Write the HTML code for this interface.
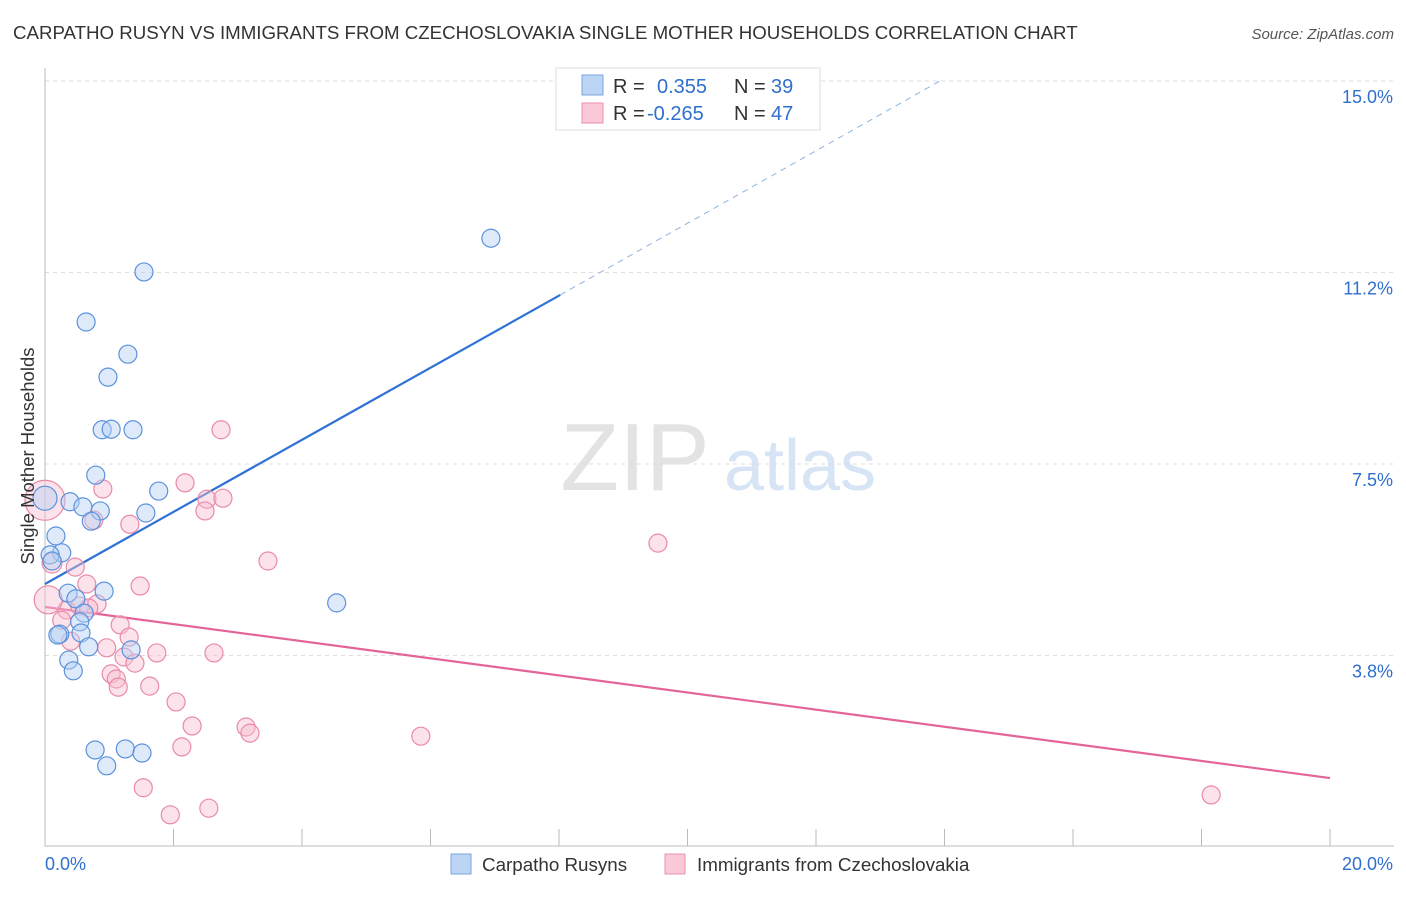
<!DOCTYPE html>
<html><head><meta charset="utf-8"><style>
body{margin:0;background:#fff;font-family:"Liberation Sans",sans-serif;}
svg text{font-family:"Liberation Sans",sans-serif;}
</style></head><body>
<svg id="chart" width="1406" height="892" xmlns="http://www.w3.org/2000/svg">
<text x="13" y="39" font-size="18.7" fill="#333">CARPATHO RUSYN VS IMMIGRANTS FROM CZECHOSLOVAKIA SINGLE MOTHER HOUSEHOLDS CORRELATION CHART</text>
<text x="1394" y="39" font-size="15" fill="#555" text-anchor="end" font-style="italic">Source: ZipAtlas.com</text>
<g>
<text x="635" y="490" font-size="96" fill="#e3e3e3" font-family="Liberation Serif" text-anchor="middle">ZIP</text>
<text x="800" y="490" font-size="72" fill="#d6e4f5" text-anchor="middle">atlas</text>
</g>
<g id="grid"></g>
<g id="axes"></g>
<g id="lines"></g>
<g id="pts"></g>
<text transform="translate(34,456) rotate(-90)" font-size="18.5" fill="#333" text-anchor="middle">Single Mother Households</text>
<g>
<rect x="556" y="68" width="264" height="62" fill="#fff" stroke="#ddd"/>
<rect x="582" y="75" width="21" height="20" fill="#bcd5f5" stroke="#7aa5e0"/>
<rect x="582" y="103" width="21" height="20" fill="#fbc8d8" stroke="#eb91ad"/>
<text x="613" y="93" font-size="20" fill="#333">R =</text>
<text x="657" y="93" font-size="20" fill="#2f6fce">0.355</text>
<text x="734" y="93" font-size="20" fill="#333">N =</text>
<text x="771" y="93" font-size="20" fill="#2f6fce">39</text>
<text x="613" y="120" font-size="20" fill="#333">R =</text>
<text x="647" y="120" font-size="20" fill="#2f6fce">-0.265</text>
<text x="734" y="120" font-size="20" fill="#333">N =</text>
<text x="771" y="120" font-size="20" fill="#2f6fce">47</text>
</g>
<g>
<rect x="451" y="854" width="20" height="20" fill="#bcd5f5" stroke="#7aa5e0"/>
<text x="482" y="871" font-size="18.8" fill="#333">Carpatho Rusyns</text>
<rect x="665" y="854" width="20" height="20" fill="#fbc8d8" stroke="#eb91ad"/>
<text x="697" y="871" font-size="18.8" fill="#333">Immigrants from Czechoslovakia</text>
</g>
</svg>
<script>
const yTicks=[3.75,7.5,11.25,15];
const yTickLabels=["3.8%","7.5%","11.2%","15.0%"];
const xTickVals=[0,2,4,6,8,10,12,14,16,18,20];
const blueX=[6.94,1.54,0.64,1.29,0.98,0.89,1.03,1.37,0.79,1.77,0.39,0.59,0.86,1.57,0.72,0.17,0.26,0.08,0.11,0.92,0.36,0.48,4.54,0.61,0.54,0.56,0.23,0.20,0.68,1.34,0.37,0.44,0.78,1.25,1.51,0.96,0];
const blueY=[11.92,11.26,10.28,9.65,9.20,8.17,8.18,8.17,7.28,6.97,6.76,6.66,6.58,6.54,6.38,6.09,5.76,5.72,5.60,5.01,4.97,4.86,4.78,4.58,4.41,4.19,4.17,4.15,3.92,3.86,3.66,3.45,1.90,1.92,1.84,1.59,6.83];
const blueR=[9,9,9,9,9,9,9,9,9,9,9,9,9,9,9,9,9,9,9,9,9,9,9,9,9,9,9,9,9,9,9,9,9,9,9,9,12];
const pinkX=[2.74,2.18,0.90,2.52,2.77,2.49,0.76,1.32,3.47,0.47,1.48,0.65,0.34,0.26,0.54,0.81,0.68,1.17,1.31,0.40,0.96,1.23,1.40,1.74,2.63,1.03,1.11,1.14,1.63,2.04,2.29,3.13,3.19,2.13,5.85,1.53,1.95,2.55,9.54,18.15,0,0.05,0.11];
const pinkY=[8.17,7.13,7.01,6.81,6.83,6.58,6.40,6.32,5.60,5.48,5.11,5.15,4.64,4.44,4.72,4.76,4.68,4.35,4.11,4.03,3.90,3.72,3.60,3.80,3.80,3.39,3.29,3.13,3.15,2.84,2.37,2.35,2.23,1.96,2.17,1.16,0.63,0.76,5.95,1.02,6.79,4.84,5.56];
const pinkR=[9,9,9,9,9,9,9,9,9,9,9,9,9,9,9,9,9,9,9,9,9,9,9,9,9,9,9,9,9,9,9,9,9,9,9,9,9,9,9,9,20,14,10];
const blueTrend=[0,5.15,8.02,10.81,13.93,15.0];
const pinkTrend=[0,4.70,20,1.35];
const ns="http://www.w3.org/2000/svg";
const X=v=>45+v*64.25, Y=v=>847-v*51.07;
function mk(p,t,a){const e=document.createElementNS(ns,t);for(const k in a)e.setAttribute(k,a[k]);p.appendChild(e);return e;}
const grid=document.getElementById('grid'),axes=document.getElementById('axes'),lines=document.getElementById('lines'),pts=document.getElementById('pts');
yTicks.forEach((v,i)=>{
 const l=mk(grid,'line',{x1:45,x2:1394,y1:Y(v),y2:Y(v),stroke:'#ddd','stroke-dasharray':'4,4'});
 
 
 const t=mk(grid,'text',{x:1393,y:Y(v)+22,'font-size':18,fill:'#2f6fce','text-anchor':'end'});t.textContent=yTickLabels[i];
 
 
});
const ax=mk(axes,'path',{d:'M45 68V846H1394',stroke:'#bbb',fill:'none'});


xTickVals.forEach(v=>{if(v===0)return;const t=mk(axes,'line',{x1:X(v),x2:X(v),y1:829,y2:846,stroke:'#bbb'});
 
 });
const xl=mk(axes,'text',{x:45,y:870,'font-size':18,fill:'#2f6fce'});xl.textContent='0.0%';


const xr=mk(axes,'text',{x:1393,y:870,'font-size':18,fill:'#2f6fce','text-anchor':'end'});xr.textContent='20.0%';


function drawPts(xs,ys,rs,fill,stroke,name){xs.forEach((x,i)=>{const c=mk(pts,'circle',{cx:X(x),cy:Y(ys[i]),r:rs[i],fill:fill,'fill-opacity':0.45,stroke:stroke,'stroke-width':1.2});
 
 });}
drawPts(pinkX,pinkY,pinkR,'#f8bfd0','#e98aa8','pink-point');
drawPts(blueX,blueY,blueR,'#b6d0f3','#5b92dc','blue-point');
const b1=mk(lines,'line',{x1:X(blueTrend[0]),y1:Y(blueTrend[1]),x2:X(blueTrend[2]),y2:Y(blueTrend[3]),stroke:'#2f72d6','stroke-width':2.2});


const b2=mk(lines,'line',{x1:X(blueTrend[2]),y1:Y(blueTrend[3]),x2:X(blueTrend[4]),y2:Y(blueTrend[5]),stroke:'#8fb3e3','stroke-width':1,'stroke-dasharray':'6,5'});


const p1=mk(lines,'line',{x1:X(pinkTrend[0]),y1:Y(pinkTrend[1]),x2:X(pinkTrend[2]),y2:Y(pinkTrend[3]),stroke:'#e4649a','stroke-width':2.2});


</script>
</body></html>
